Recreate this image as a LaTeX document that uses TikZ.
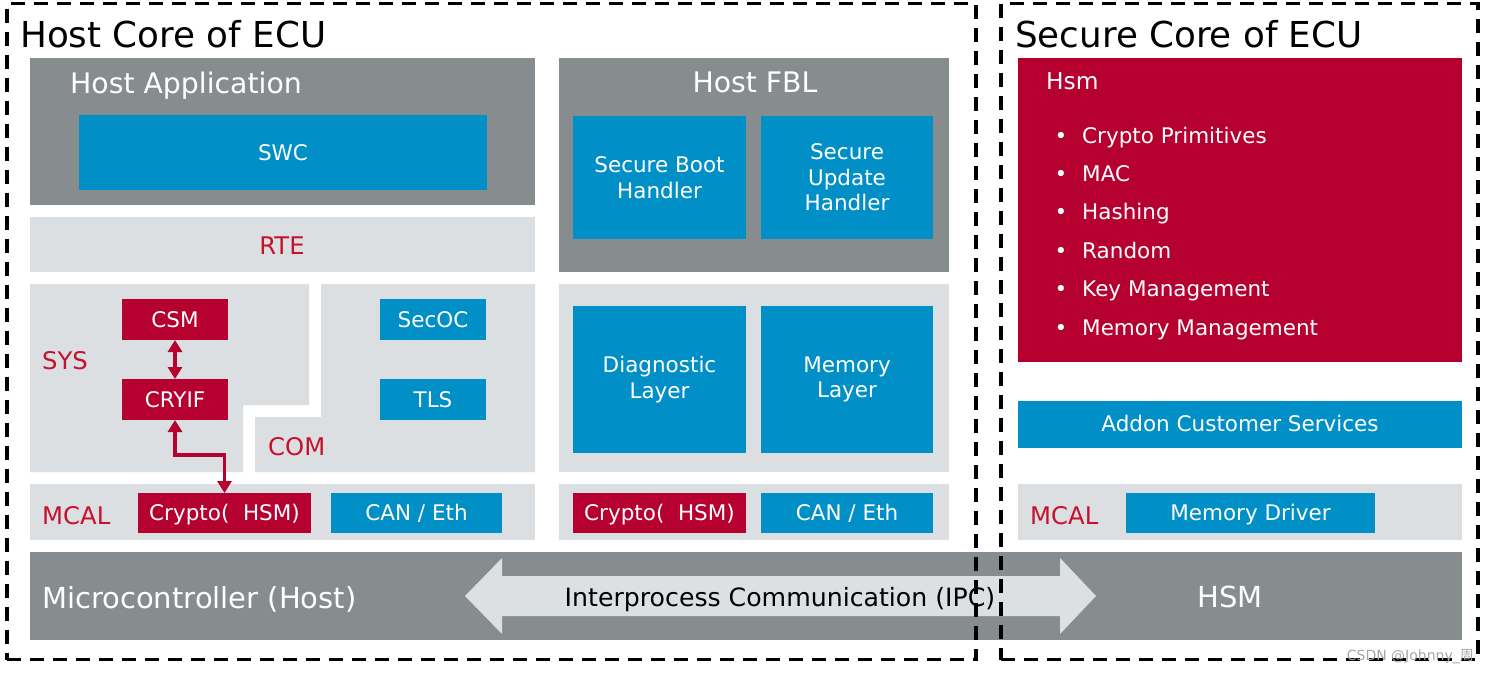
\documentclass[tikz,border=0pt]{standalone}
\usepackage{fontspec}
\setmainfont{DejaVu Sans}
\newfontfamily\cjkwm{Noto Sans CJK SC}
\usetikzlibrary{arrows.meta}
\definecolor{cdark}{HTML}{878C8F}
\definecolor{clight}{HTML}{DCDFE2}
\definecolor{cblue}{HTML}{008FC6}
\definecolor{cred}{HTML}{B50030}
\definecolor{ctred}{HTML}{C8102E}
\definecolor{cipc}{HTML}{DDE0E3}
\newcommand\fEcu{\fontsize{35.7}{42}\selectfont}
\newcommand\fPan{\fontsize{28.3}{34}\selectfont}
\newcommand\fBar{\fontsize{29}{34}\selectfont}
\newcommand\fBx{\fontsize{21.5}{25.5}\selectfont}
\newcommand\fLab{\fontsize{24.3}{29}\selectfont}
\newcommand\fIpc{\fontsize{25.2}{30}\selectfont}
\newcommand\fHsmT{\fontsize{23.3}{28}\selectfont}
\newcommand\fWm{\fontsize{14}{16}\selectfont}
\begin{document}
\begin{tikzpicture}[x=1pt,y=-1pt,
  blk/.style={inner sep=0pt, outer sep=0pt, align=center},
  darkpanel/.style={blk, fill=cdark},
  lightpanel/.style={blk, fill=clight},
  bluebox/.style={blk, fill=cblue, text=white, font=\fBx},
  redbox/.style={blk, fill=cred, text=white, font=\fBx},
  oneln/.style={text height=15.7pt, text depth=0pt},
  paneltitle/.style={inner sep=0pt, text=white, font=\fPan},
  bartitle/.style={inner sep=0pt, text=white, font=\fBar},
  ecutitle/.style={inner sep=0pt, text=black, font=\fEcu, anchor=base west},
  redlabel/.style={inner sep=0pt, text=ctred, font=\fLab},
  hitem/.style={inner sep=0pt, text=white, font=\fBx},
  coreframe/.style={draw=black, line width=3.5pt, dash pattern=on 14pt off 9pt, inner sep=0pt, outer sep=0pt},
  link/.style={draw=cred, line width=3.5pt, {Triangle[width=14pt,length=12pt]}-{Triangle[width=14pt,length=12pt]}},
  wmark/.style={inner sep=0pt, text=gray!70, font=\fWm}
]
\fill[white] (0,0) rectangle (1488,673);
\useasboundingbox (0,0) rectangle (1488,673);

% ---------------- Host core ----------------
\node[ecutitle] (hosttitle) at (20,47) {Host Core of ECU};

\node[darkpanel, minimum width=505pt, minimum height=147pt] (happ) at (282.5,131.5) {};
\node[paneltitle, anchor=base west] (happt) at (70,93) {Host Application};
\node[bluebox, oneln, minimum width=408pt, minimum height=75pt] (swc) at (283,152.5) {SWC};

\node[lightpanel, minimum width=505pt, minimum height=55pt] (rte) at (282.5,244.5) {};
\node[redlabel] (rtet) at (282,246) {RTE};

\node[darkpanel, minimum width=390pt, minimum height=214pt] (fbl) at (754,165) {};
\node[paneltitle, anchor=base] (fblt) at (755,92) {Host FBL};
\node[bluebox, minimum width=173pt, minimum height=123pt] (sbh) at (659.5,177.5) {Secure Boot\\Handler};
\node[bluebox, minimum width=172pt, minimum height=123pt] (suh) at (847,177.5) {Secure\\Update\\Handler};

% SYS and COM areas
\fill[clight] (30,284) -- (309,284) -- (309,405) -- (243,405) -- (243,472) -- (30,472) -- cycle;
\fill[clight] (321,284) -- (535,284) -- (535,472) -- (255,472) -- (255,417) -- (321,417) -- cycle;
\node[redlabel, anchor=base west] (syst) at (42,369) {SYS};
\node[redlabel, anchor=base west] (comt) at (268,455) {COM};
\node[redbox, oneln, minimum width=106pt, minimum height=41pt] (csm) at (175,319.5) {CSM};
\node[redbox, oneln, minimum width=106pt, minimum height=41pt] (cryif) at (175,399.5) {CRYIF};
\node[bluebox, oneln, minimum width=106pt, minimum height=41pt] (secoc) at (433,319.5) {SecOC};
\node[bluebox, oneln, minimum width=106pt, minimum height=41pt] (tls) at (433,399.5) {TLS};

\node[lightpanel, minimum width=390pt, minimum height=188pt] (fblmid) at (754,378) {};
\node[bluebox, minimum width=173pt, minimum height=147pt] (diag) at (659.5,379.5) {Diagnostic\\Layer};
\node[bluebox, minimum width=172pt, minimum height=147pt] (meml) at (847,379.5) {Memory\\Layer};

% MCAL rows
\node[lightpanel, minimum width=505pt, minimum height=56pt] (mcall) at (282.5,512) {};
\node[redlabel, anchor=base west] (mcallt) at (42,524) {MCAL};
\node[redbox, oneln, minimum width=173pt, minimum height=40pt] (cryptol) at (224.5,513) {Crypto(\ \ HSM)};
\node[bluebox, oneln, minimum width=171pt, minimum height=40pt] (canl) at (416.5,513) {CAN / Eth};

\node[lightpanel, minimum width=390pt, minimum height=56pt] (mcalr) at (754,512) {};
\node[redbox, oneln, minimum width=173pt, minimum height=40pt] (cryptor) at (659.5,513) {Crypto(\ \ HSM)};
\node[bluebox, oneln, minimum width=172pt, minimum height=40pt] (canr) at (847,513) {CAN / Eth};

% red connectors
\draw[link] (csm.south) -- (cryif.north);
\draw[link] (cryif.south) -- ++(0,35) -| (cryptol.north);

% ---------------- Secure core ----------------
\node[ecutitle] (sectitle) at (1015,47) {Secure Core of ECU};
\node[blk, fill=cred, minimum width=444pt, minimum height=304pt] (hsmbox) at (1240,210) {};
\node[inner sep=0pt, text=white, font=\fHsmT, anchor=base west] (hsmt) at (1046,89) {Hsm};
\foreach \t [count=\i from 0] in {Crypto Primitives, MAC, Hashing, Random, Key Management, Memory Management}{
  \node[hitem, anchor=base] (dot\i) at (1061,143+38.4*\i) {\textbullet};
  \node[hitem, anchor=base west] (item\i) at (1082,143+38.4*\i) {\t};
}
\node[bluebox, oneln, minimum width=444pt, minimum height=47pt] (addon) at (1240,424) {Addon Customer Services};
\node[lightpanel, minimum width=444pt, minimum height=56pt] (mcals) at (1240,512) {};
\node[redlabel, anchor=base west] (mcalst) at (1030,524) {MCAL};
\node[bluebox, oneln, minimum width=249pt, minimum height=40pt] (memdrv) at (1250.5,513) {Memory Driver};

% ---------------- Microcontroller bar ----------------
\node[darkpanel, minimum width=1432pt, minimum height=88pt] (mcu) at (746,596) {};
\node[bartitle, anchor=base west] (mcut) at (42,608) {Microcontroller (Host)};
\node[bartitle, anchor=base] (hsmbar) at (1230,607) {HSM};
\fill[cipc] (465,596) -- (502,558) -- (502,576) -- (1060,576) -- (1060,558) -- (1096,596)
  -- (1060,634) -- (1060,616) -- (502,616) -- (502,634) -- cycle;
\node[inner sep=0pt, text=black, font=\fIpc, anchor=base] (ipc) at (780,606) {Interprocess Communication (IPC)};

% ---------------- dashed core frames ----------------
\node[coreframe, minimum width=969pt, minimum height=656pt] (hostcore) at (491.5,331.5) {};
\node[coreframe, minimum width=477pt, minimum height=656pt] (securecore) at (1239.5,331.5) {};

\node[wmark, anchor=base east] (wm) at (1474,660) {CSDN @Johnny\_{\cjkwm 周}};
\end{tikzpicture}
\end{document}
